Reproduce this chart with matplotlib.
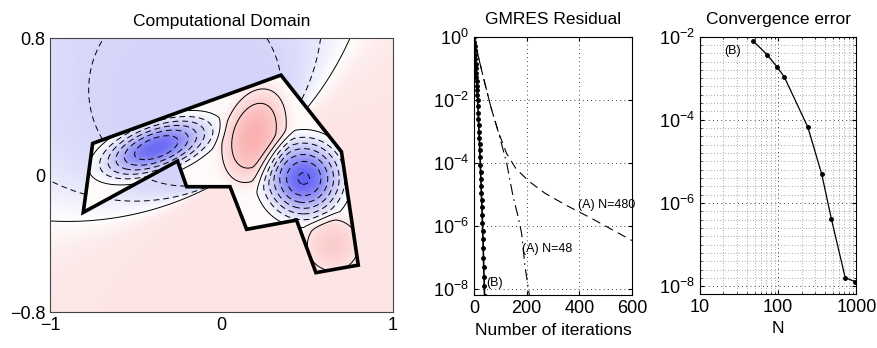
import numpy as np
import matplotlib
matplotlib.use('Agg')
import matplotlib.pyplot as plt
from matplotlib.path import Path
from matplotlib.colors import LinearSegmentedColormap
from matplotlib.ticker import LogLocator, NullFormatter

plt.rcParams['font.family'] = ['Liberation Sans', 'DejaVu Sans']
plt.rcParams['mathtext.fontset'] = 'custom'
plt.rcParams['mathtext.rm'] = 'Liberation Sans'
plt.rcParams['mathtext.it'] = 'Liberation Sans:italic'

# --- domain polygon ---
poly_x = [-0.751, 0.347, 0.700, 0.798, 0.551, 0.438, 0.147, 0.050, -0.203, -0.256, -0.806]
poly_y = [0.185, 0.584, 0.136, -0.526, -0.570, -0.263, -0.317, -0.068, -0.068, 0.082, -0.218]

# vortices inside the domain: centre, strength, radii, angle, profile power
vort_x = [-0.38, 0.19, 0.48, 0.65]
vort_y = [0.16, 0.23, -0.02, -0.41]
vort_amp = [-0.92, 0.44, -0.95, 0.27]
vort_a = [0.45, 0.37, 0.31, 0.20]
vort_b = [0.19, 0.23, 0.31, 0.20]
vort_ang = [20, 72, 0, 0]
vort_pow = [1.8, 1.5, 1.8, 1.0]
inner_offset = 0.03

# far field outside: dipole point, direction, strength, level
dip_x, dip_y = 0.10, 0.03
dip_ang = 123.6
dip_amp = 0.9
far_level = 0.25

# --- GMRES residuals ---
it_b = list(range(42))
res_b = [1.0, 0.708, 0.513, 0.372, 0.269, 0.195, 0.141, 0.102, 7.41e-2, 5.37e-2,
         3.89e-2, 2.82e-2, 2.0e-2, 1.41e-2, 1.0e-2, 6.3e-3, 4.0e-3, 2.5e-3, 1.6e-3, 1.0e-3,
         6.3e-4, 4.0e-4, 2.5e-4, 1.5e-4, 8.9e-5, 5.2e-5, 3.2e-5, 1.9e-5, 1.1e-5, 6.6e-6,
         4.0e-6, 2.2e-6, 1.3e-6, 7.1e-7, 4.0e-7, 2.0e-7, 1.0e-7, 5.0e-8, 2.5e-8, 1.3e-8,
         6.3e-9, 3.2e-9]
it_48 = [0, 20, 42, 65, 92, 124, 149, 168, 181, 194, 206, 212]
res_48 = [1.0, 0.178, 3.16e-2, 5.6e-3, 1.0e-3, 1.0e-4, 8.3e-6, 1.95e-6, 5.8e-7, 5.0e-8, 1.15e-8, 5.0e-9]
it_480 = [0, 20, 42, 65, 92, 124, 160, 210, 270, 350, 450, 600]
res_480 = [1.0, 0.178, 3.16e-2, 5.6e-3, 1.0e-3, 2.0e-4, 6.5e-5, 2.6e-5, 1.1e-5, 4.6e-6, 1.7e-6, 3.5e-7]

# --- convergence error ---
conv_n = [48, 72, 96, 120, 240, 360, 480, 720, 960]
conv_err = [7.8e-3, 3.7e-3, 1.9e-3, 1.07e-3, 6.6e-5, 5.0e-6, 4.1e-7, 1.6e-8, 1.3e-8]

fig = plt.figure(figsize=(8.77, 3.48), dpi=100)

# ---------------- left: field ----------------
ax = fig.add_axes([0.057, 0.1034, 0.391, 0.787])
xs = np.linspace(-1, 1, 500)
ys = np.linspace(-0.8, 0.8, 400)
X, Y = np.meshgrid(xs, ys)

inner = np.full(X.shape, inner_offset)
for cx, cy, amp, a, b, ang, p in zip(vort_x, vort_y, vort_amp, vort_a, vort_b, vort_ang, vort_pow):
    t = np.deg2rad(ang)
    u = (X - cx) * np.cos(t) + (Y - cy) * np.sin(t)
    v = -(X - cx) * np.sin(t) + (Y - cy) * np.cos(t)
    inner += amp * np.clip(1 - (u / a) ** 2 - (v / b) ** 2, 0, 1) ** p

t = np.deg2rad(dip_ang)
s = (X - dip_x) * np.cos(t) + (Y - dip_y) * np.sin(t)
r2 = (X - dip_x) ** 2 + (Y - dip_y) ** 2 + 1e-6
f = far_level - dip_amp * s / r2
outer = np.where(f < 0, -0.32 * np.tanh(-f / 0.32), 0.15 * np.tanh(f / 0.15))

path = Path(np.column_stack([poly_x, poly_y]))
inside = path.contains_points(np.column_stack([X.ravel(), Y.ravel()])).reshape(X.shape)
field = np.where(inside, inner, outer)

cmap = LinearSegmentedColormap.from_list(
    'bwr_soft', [(0.0, (0.33, 0.33, 0.96)), (0.25, (0.74, 0.74, 0.97)), (0.5, (1, 1, 1)),
                 (1.0, (0.96, 0.35, 0.35))])
ax.imshow(field, extent=(-1, 1, -0.8, 0.8), origin='lower', cmap=cmap, vmin=-1, vmax=1,
          interpolation='bilinear', aspect='auto')

levels = np.round(np.arange(-0.9, 0.35, 0.15), 2)
styles = [(0, (6, 4)) if l < 0 else 'solid' for l in levels]
ax.contour(X, Y, np.ma.masked_where(~inside, inner), levels=levels, colors='k',
           linewidths=0.7, linestyles=styles)
ax.contour(X, Y, np.ma.masked_where(inside, outer), levels=levels, colors='k',
           linewidths=0.7, linestyles=styles)
ax.fill(poly_x, poly_y, fill=False, edgecolor='k', lw=2.6, joinstyle='miter')

ax.set_xlim(-1, 1)
ax.set_ylim(-0.8, 0.8)
ax.set_xticks([-1, 0, 1])
ax.set_yticks([-0.8, 0, 0.8])
ax.set_yticklabels(['\u22120.8', '0', '0.8'])
ax.tick_params(direction='in', length=0, labelsize=13)
for sp in ax.spines.values():
    sp.set_color('#444444')
    sp.set_linewidth(0.8)
ax.set_title('Computational Domain', fontsize=12.5, pad=9)

# ---------------- middle: GMRES ----------------
ax2 = fig.add_axes([0.5405, 0.152, 0.180, 0.742])
ax2.semilogy(it_b, res_b, '-', color='k', marker='.', ms=5, lw=1.2)
ax2.semilogy(it_480, res_480, color='k', lw=0.8, ls=(0, (8, 5)))
ax2.semilogy(it_48, res_48, color='k', lw=0.8, ls=(0, (10, 4, 1.5, 4)))
ax2.text(397, 10 ** -5.32, '(A) N=480', fontsize=9, va='center', ha='left')
ax2.text(181, 10 ** -6.72, '(A) N=48', fontsize=9, va='center', ha='left')
ax2.text(45, 10 ** -7.81, '(B)', fontsize=9, va='center', ha='left')
ax2.set_xlim(0, 600)
ax2.set_ylim(6.5e-9, 1)
ax2.set_xticks([0, 200, 400, 600])
ax2.set_yticks([1, 1e-2, 1e-4, 1e-6, 1e-8])
ax2.minorticks_off()
ax2.grid(True, ls=(0, (1, 4)), color='k', lw=0.6)
ax2.tick_params(direction='in', length=3, labelsize=13, top=True, right=True)
ax2.set_xlabel('Number of iterations', fontsize=12.5)
ax2.set_title('GMRES Residual', fontsize=12.5, pad=9)

# ---------------- right: convergence ----------------
ax3 = fig.add_axes([0.798, 0.155, 0.1785, 0.740])
ax3.loglog(conv_n, conv_err, '-', color='k', marker='.', ms=5, lw=0.9)
ax3.text(20.3, 10 ** -2.34, '(B)', fontsize=9, va='center', ha='left')
ax3.set_xlim(10, 1000)
ax3.set_ylim(6.5e-9, 1e-2)
ax3.set_xticks([10, 100, 1000])
ax3.set_xticklabels(['10', '100', '1000'])
ax3.set_yticks([1e-2, 1e-4, 1e-6, 1e-8])
ax3.yaxis.set_minor_locator(LogLocator(base=10, subs=[1.0, 1.585, 2.512, 3.981, 6.310], numticks=30))
ax3.yaxis.set_minor_formatter(NullFormatter())
ax3.xaxis.set_minor_formatter(NullFormatter())
ax3.grid(True, which='major', ls=(0, (1, 4)), color='k', lw=0.6)
ax3.grid(True, which='minor', ls=(0, (1, 4)), color='k', lw=0.4)
ax3.tick_params(which='both', direction='in', labelsize=13, top=True, right=True)
ax3.tick_params(which='minor', length=1.5)
ax3.tick_params(which='major', length=3)
ax3.set_xlabel('N', fontsize=12.5)
ax3.set_title('Convergence error', fontsize=12.5, pad=9)

fig.savefig('out.png', dpi=100)
